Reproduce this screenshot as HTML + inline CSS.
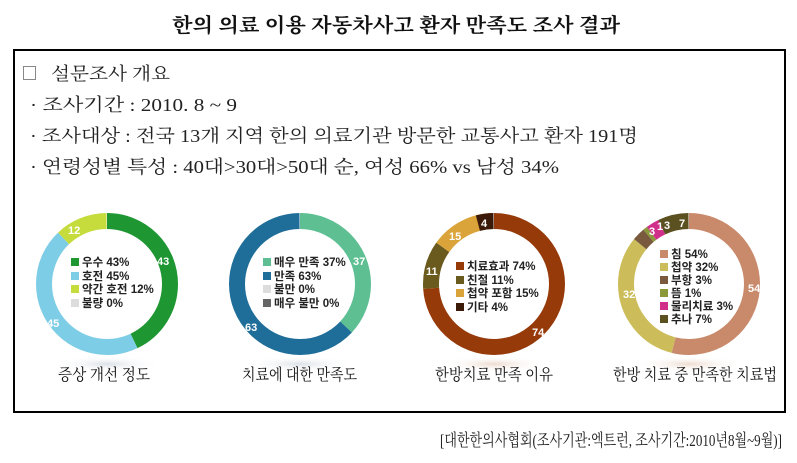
<!DOCTYPE html>
<html><head><meta charset="utf-8"><style>
html,body{margin:0;padding:0;background:#fff;}
svg{display:block;}
text{font-family:"Liberation Sans","Noto Sans CJK KR",sans-serif;}
.s{font-family:"Liberation Serif","Noto Serif CJK SC",serif;}
.lg{font-size:11.5px;font-weight:bold;fill:#222;}
.nm{font-size:11px;font-weight:bold;fill:#fff;}
.tt{font-size:16px;fill:#111;}
</style></head><body>
<svg width="797" height="463" viewBox="0 0 797 463" xmlns="http://www.w3.org/2000/svg">
<defs>
<radialGradient id="sh" cx="50%" cy="50%" r="50%"><stop offset="0" stop-color="#9ab" stop-opacity="0.35"/><stop offset="1" stop-color="#fff" stop-opacity="0"/></radialGradient>
<radialGradient id="sh2" cx="50%" cy="50%" r="50%"><stop offset="0" stop-color="#c97" stop-opacity="0.35"/><stop offset="1" stop-color="#fff" stop-opacity="0"/></radialGradient>
</defs>
<text class="s" x="172" y="32" textLength="448" lengthAdjust="spacingAndGlyphs" font-size="20" font-weight="bold" fill="#111">한의 의료 이용 자동차사고 환자 만족도 조사 결과</text>
<rect x="14" y="50" width="771" height="362" fill="none" stroke="#000" stroke-width="2"/>
<rect x="23.5" y="66.5" width="12" height="13" fill="#fff" stroke="#888" stroke-width="1"/>
<text class="s" x="51" y="80" textLength="119" lengthAdjust="spacingAndGlyphs" font-size="18" fill="#222">설문조사 개요</text>
<text class="s" x="30" y="111" textLength="207" lengthAdjust="spacingAndGlyphs" font-size="18" fill="#222">· 조사기간 : 2010. 8 ~ 9</text>
<text class="s" x="30" y="142" textLength="608" lengthAdjust="spacingAndGlyphs" font-size="18" fill="#222">· 조사대상 : 전국 13개 지역 한의 의료기관 방문한 교통사고 환자 191명</text>
<text class="s" x="30" y="173" textLength="529" lengthAdjust="spacingAndGlyphs" font-size="18" fill="#222">· 연령성별 특성 : 40대&gt;30대&gt;50대 순, 여성 66% vs 남성 34%</text>

<ellipse cx="107" cy="364" rx="55" ry="8" fill="url(#sh)"/>
<ellipse cx="300" cy="364" rx="55" ry="8" fill="url(#sh)"/>
<ellipse cx="494" cy="364" rx="55" ry="8" fill="url(#sh2)"/>
<ellipse cx="689" cy="364" rx="55" ry="8" fill="url(#sh2)"/>

<g transform="translate(107,284) rotate(-90)" fill="none" stroke-width="16">
<circle r="63" stroke="#1e9632" pathLength="100" stroke-dasharray="43 100" stroke-dashoffset="0"/>
<circle r="63" stroke="#7ecde6" pathLength="100" stroke-dasharray="45 100" stroke-dashoffset="-43"/>
<circle r="63" stroke="#c5dc3c" pathLength="100" stroke-dasharray="12 100" stroke-dashoffset="-88"/>
</g>
<text class="nm" x="157" y="265">43</text><text class="nm" x="47" y="327">45</text><text class="nm" x="68" y="234">12</text>
<rect x="71" y="258" width="8" height="8" fill="#1e9632"/><text class="lg" x="82" y="266">우수 43%</text>
<rect x="71" y="272" width="8" height="8" fill="#7ecde6"/><text class="lg" x="82" y="280">호전 45%</text>
<rect x="71" y="285" width="8" height="8" fill="#c5dc3c"/><text class="lg" x="82" y="293">약간 호전 12%</text>
<rect x="71" y="299" width="8" height="8" fill="#ddd"/><text class="lg" x="82" y="307">불량 0%</text>
<text class="tt s" x="58" y="380" textLength="92" lengthAdjust="spacingAndGlyphs">증상 개선 정도</text>

<g transform="translate(300,284) rotate(-90)" fill="none" stroke-width="16">
<circle r="63" stroke="#5dbf92" pathLength="100" stroke-dasharray="37 100"/>
<circle r="63" stroke="#1f6e9a" pathLength="100" stroke-dasharray="63 100" stroke-dashoffset="-37"/>
</g>
<text class="nm" x="353" y="265">37</text><text class="nm" x="245" y="331">63</text>
<rect x="263" y="258" width="8" height="8" fill="#5dbf92"/><text class="lg" x="274" y="266">매우 만족 37%</text>
<rect x="263" y="272" width="8" height="8" fill="#1f6e9a"/><text class="lg" x="274" y="280">만족 63%</text>
<rect x="263" y="285" width="8" height="8" fill="#ddd"/><text class="lg" x="274" y="293">불만 0%</text>
<rect x="263" y="299" width="8" height="8" fill="#666"/><text class="lg" x="274" y="307">매우 불만 0%</text>
<text class="tt s" x="242" y="380" textLength="115" lengthAdjust="spacingAndGlyphs">치료에 대한 만족도</text>

<g transform="translate(494,284) rotate(-90)" fill="none" stroke-width="16">
<circle r="63" stroke="#963a0a" pathLength="100" stroke-dasharray="74 100"/>
<circle r="63" stroke="#6b5a1e" pathLength="100" stroke-dasharray="11 100" stroke-dashoffset="-74"/>
<circle r="63" stroke="#dba43a" pathLength="100" stroke-dasharray="15 100" stroke-dashoffset="-85"/>
<circle r="63" stroke="#3c1a0a" pathLength="100" stroke-dasharray="4 100" stroke-dashoffset="-96"/>
</g>
<text class="nm" x="532" y="336">74</text><text class="nm" x="426" y="275">11</text><text class="nm" x="449" y="240">15</text><text class="nm" x="481" y="227">4</text>
<rect x="456" y="262" width="8" height="8" fill="#963a0a"/><text class="lg" x="467" y="270">치료효과 74%</text>
<rect x="456" y="276" width="8" height="8" fill="#6b5a1e"/><text class="lg" x="467" y="284">친절 11%</text>
<rect x="456" y="289" width="8" height="8" fill="#dba43a"/><text class="lg" x="467" y="297">첩약 포함 15%</text>
<rect x="456" y="303" width="8" height="8" fill="#3c1a0a"/><text class="lg" x="467" y="311">기타 4%</text>
<text class="tt s" x="435" y="380" textLength="118" lengthAdjust="spacingAndGlyphs">한방치료 만족 이유</text>

<g transform="translate(689,284) rotate(-90)" fill="none" stroke-width="16">
<circle r="63" stroke="#c98a6c" pathLength="100" stroke-dasharray="54 100"/>
<circle r="63" stroke="#cdbd5a" pathLength="100" stroke-dasharray="32 100" stroke-dashoffset="-54"/>
<circle r="63" stroke="#7a5a3e" pathLength="100" stroke-dasharray="3 100" stroke-dashoffset="-86"/>
<circle r="63" stroke="#8a9a3a" pathLength="100" stroke-dasharray="1 100" stroke-dashoffset="-89"/>
<circle r="63" stroke="#d0308a" pathLength="100" stroke-dasharray="3 100" stroke-dashoffset="-90"/>
<circle r="63" stroke="#5a5020" pathLength="100" stroke-dasharray="7 100" stroke-dashoffset="-93"/>
</g>
<text class="nm" x="748" y="292">54</text><text class="nm" x="623" y="298">32</text><text class="nm" x="649" y="235">3</text><text class="nm" x="657" y="230">1</text><text class="nm" x="664" y="229">3</text><text class="nm" x="679" y="227">7</text>
<rect x="660" y="250" width="8" height="8" fill="#c98a6c"/><text class="lg" x="671" y="258">침 54%</text>
<rect x="660" y="263" width="8" height="8" fill="#cdbd5a"/><text class="lg" x="671" y="271">첩약 32%</text>
<rect x="660" y="276" width="8" height="8" fill="#7a5a3e"/><text class="lg" x="671" y="284">부항 3%</text>
<rect x="660" y="289" width="8" height="8" fill="#8a9a3a"/><text class="lg" x="671" y="297">뜸 1%</text>
<rect x="660" y="302" width="8" height="8" fill="#d0308a"/><text class="lg" x="671" y="310">물리치료 3%</text>
<rect x="660" y="315" width="8" height="8" fill="#5a5020"/><text class="lg" x="671" y="323">추나 7%</text>
<text class="tt s" x="613" y="380" textLength="164" lengthAdjust="spacingAndGlyphs">한방 치료 중 만족한 치료법</text>

<text class="s" x="440" y="446" textLength="342" lengthAdjust="spacingAndGlyphs" font-size="17" fill="#222">[대한한의사협회(조사기관:엑트런, 조사기간:2010년8월~9월)]</text>
</svg>
</body></html>
